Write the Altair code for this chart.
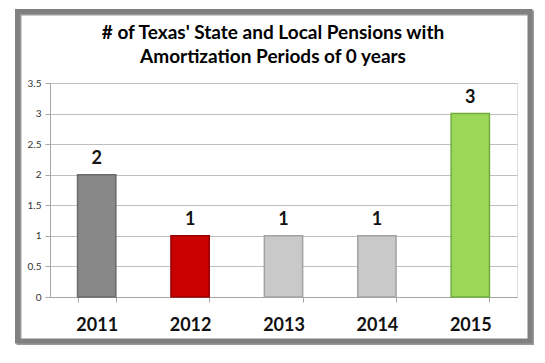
import altair as alt
import pandas as pd

years = ["2011", "2012", "2013", "2014", "2015"]
counts = [2, 1, 1, 1, 3]
fills = ["#888888", "#c80000", "#c9c9c9", "#c9c9c9", "#9bd85a"]
edges = ["#6a6a6a", "#960000", "#a2a2a2", "#a2a2a2", "#72ad3c"]
y_ticks = [0.0, 0.5, 1.0, 1.5, 2.0, 2.5, 3.0, 3.5]
title_lines = ["# of Texas' State and Local Pensions with", "Amortization Periods of 0 years"]

df = pd.DataFrame({"year": years, "count": counts, "fill": fills, "edge": edges})

W, H = 467, 214
FONT = "Lato"

x_enc = alt.X(
    "year:N",
    sort=years,
    scale=alt.Scale(paddingInner=0.59, paddingOuter=0.295),
    axis=alt.Axis(
        title=None, labelAngle=0, labelFontSize=18, labelFontWeight="bold",
        labelFont=FONT, labelColor="#111111", tickBand="extent", tickSize=5,
        tickColor="#a6a6a6", domainColor="#a6a6a6", labelPadding=14, grid=False,
    ),
)
y_enc = alt.Y(
    "count:Q",
    scale=alt.Scale(domain=[0, 3.5], nice=False),
    axis=alt.Axis(
        title=None, values=y_ticks, tickCount=8, tickMinStep=0.5, format="~g",
        labelFontSize=10, labelFont=FONT,
        labelColor="#333333", tickSize=5, tickColor="#a6a6a6", domainColor="#a6a6a6",
        gridColor="#bfbfbf", labelPadding=4, labelOverlap=False, labelFlush=False,
    ),
)

base = alt.Chart(df)
bars = base.mark_bar(strokeWidth=1.5).encode(
    x=x_enc, y=y_enc,
    fill=alt.Fill("fill:N", scale=None),
    stroke=alt.Stroke("edge:N", scale=None),
)
labels = base.mark_text(dy=-11, baseline="alphabetic", fontSize=18, fontWeight="bold",
                        font=FONT, color="#111111").encode(
    x=alt.X("year:N", sort=years), y="count:Q", text="count:Q"
)

one = pd.DataFrame({"k": [0]})
shadow = alt.Chart(one).mark_rect(filled=False, stroke="#9a9a9a", strokeWidth=5, clip=False).encode(
    x=alt.value(-31), x2=alt.value(481.5), y=alt.value(-70), y2=alt.value(259.5)
)
frame = alt.Chart(one).mark_rect(filled=False, stroke="#808080", strokeWidth=5, clip=False).encode(
    x=alt.value(-32.5), x2=alt.value(480), y=alt.value(-71.5), y2=alt.value(258)
)

title_style = dict(font=FONT, fontSize=19, fontWeight="bold", color="#000000",
                   align="center", baseline="alphabetic", clip=False)
t1 = alt.Chart(pd.DataFrame({"t": [title_lines[0]]})).mark_text(**title_style).encode(
    text="t:N", x=alt.value(223), y=alt.value(-44)
)
t2 = alt.Chart(pd.DataFrame({"t": [title_lines[1]]})).mark_text(**title_style).encode(
    text="t:N", x=alt.value(223), y=alt.value(-20)
)

chart = alt.layer(shadow, frame, bars, labels, t1, t2).properties(
    width=W, height=H,
    autosize=alt.AutoSizeParams(type="none"),
    padding={"left": 42, "top": 75, "right": 20, "bottom": 50},
).configure_view(stroke=None).configure(background="white")

chart.save("out.html", embed_options={"renderer": "svg", "actions": False})
